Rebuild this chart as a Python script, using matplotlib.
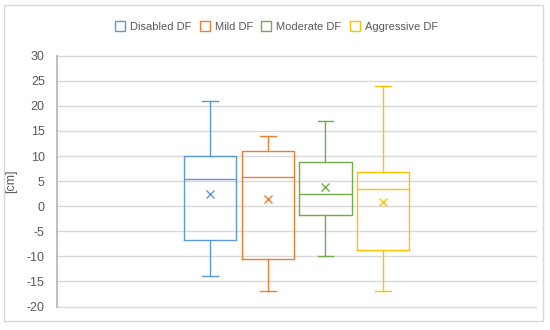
import matplotlib.pyplot as plt
from matplotlib.lines import Line2D
from matplotlib.patches import Rectangle
from matplotlib.ticker import FuncFormatter

plt.rcParams['font.family'] = ['Liberation Sans', 'DejaVu Sans']

# data (cm)
groups = ['Disabled DF', 'Mild DF', 'Moderate DF', 'Aggressive DF']
colors = ['#5B9BD5', '#ED7D31', '#70AD47', '#FFC000']
whislo = [-14, -17, -10, -17]
q1 = [-6.7, -10.5, -1.8, -8.8]
med = [5.5, 5.9, 2.5, 3.5]
q3 = [10, 11, 8.8, 6.8]
whishi = [21, 14, 17, 24]
means = [2.4, 1.4, 3.8, 0.8]
yticks = list(range(-20, 31, 5))

fig = plt.figure(figsize=(5.5, 3.3), dpi=100)
ax = fig.add_axes([0.1042, 0.0712, 0.8703, 0.76])

step = 0.1205
width = 0.1097
for i in range(len(groups)):
    pos = 0.5 + (i - 1.5) * step
    st = dict(whislo=whislo[i], q1=q1[i], med=med[i], q3=q3[i],
              whishi=whishi[i], mean=means[i], fliers=[])
    c = colors[i]
    lp = dict(color=c, linewidth=1.0)
    ax.bxp([st], positions=[pos], widths=width, showmeans=True,
           boxprops=lp, medianprops=lp, whiskerprops=lp,
           capprops=lp, capwidths=width * 0.3,
           meanprops=dict(marker='x', markeredgecolor=c, markersize=6,
                          markeredgewidth=1.0, linestyle='none'))

ax.set_xlim(0, 1)
ax.set_ylim(-20, 30)
ax.set_yticks(yticks)
ax.yaxis.set_major_formatter(FuncFormatter(lambda v, p: '%d' % v))
ax.set_xticks([])
for v in yticks:
    ax.axhline(v, color='#d9d9d9', linewidth=1.0, zorder=0, clip_on=False)
for s in ['top', 'right', 'bottom']:
    ax.spines[s].set_visible(False)
ax.spines['left'].set_color('#bfbfbf')
ax.spines['left'].set_linewidth(1.5)
ax.tick_params(axis='y', length=0, pad=9, labelsize=9, labelcolor='#595959')
ax.set_ylabel('[cm]', fontsize=9, color='#595959')
ax.yaxis.set_label_coords(-0.084, 0.5)

handles = [Line2D([], [], marker='s', linestyle='none', markersize=6.5,
                  markerfacecolor='white', markeredgecolor=c,
                  markeredgewidth=1.0) for c in colors]
leg = fig.legend(handles, groups, loc='center', bbox_to_anchor=(0.503, 0.918),
                 ncol=4, frameon=False, fontsize=8, handletextpad=0.5,
                 columnspacing=0.8, handlelength=0.8)
for t in leg.get_texts():
    t.set_color('#595959')

fig.patches.append(Rectangle((4 / 550, 1 - 321 / 330), 539 / 550, 316 / 330,
                             transform=fig.transFigure, fill=False,
                             edgecolor='#d9d9d9', linewidth=1.0))

fig.savefig('out.png', dpi=100)
